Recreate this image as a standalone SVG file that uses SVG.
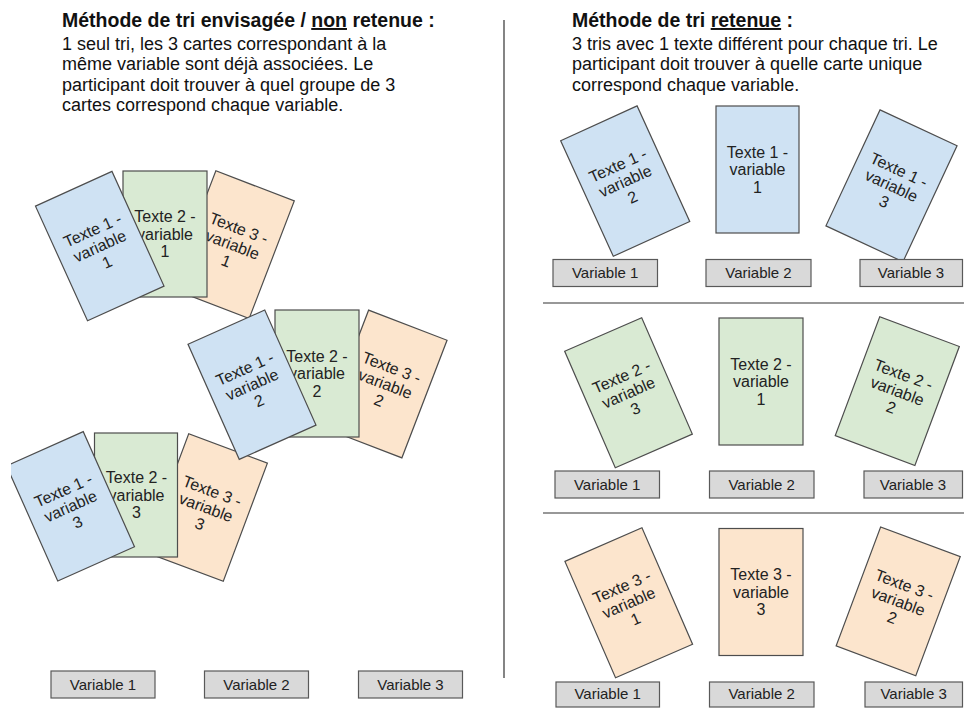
<svg xmlns="http://www.w3.org/2000/svg" width="964" height="708" viewBox="0 0 964 708">
<style>
text{font-family:"Liberation Sans",Arial,Helvetica,sans-serif;fill:#111}
.h1{font-size:19.5px;font-weight:bold}
.bd{font-size:18px}
.card{stroke:#4d4d4d;stroke-width:1.2}
.b{fill:#cfe2f3}.g{fill:#d9ead3}.o{fill:#fce5cd}
.ct{font-size:16px;text-anchor:middle;fill:#222}
.lb{fill:#d9d9d9;stroke:#595959;stroke-width:1.2}
.lt{font-size:15px;text-anchor:middle;fill:#222}
.sep{stroke:#333;stroke-width:1.2}
</style>
<defs>
<clipPath id="clipL"><rect x="11" y="0" width="953" height="708"/></clipPath>
</defs>
<rect width="964" height="708" fill="#fff"/>

<g id="header-left">
<text class="h1" x="62" y="27">Méthode de tri envisagée / <tspan style="text-decoration:underline">non</tspan> retenue :</text>
<text class="bd" x="62" y="49.5">1 seul tri, les 3 cartes correspondant à la</text>
<text class="bd" x="62" y="70">même variable sont déjà associées. Le</text>
<text class="bd" x="62" y="90.5">participant doit trouver à quel groupe de 3</text>
<text class="bd" x="62" y="111">cartes correspond chaque variable.</text>
</g>
<g id="header-right">
<text class="h1" x="572" y="27">Méthode de tri <tspan style="text-decoration:underline">retenue</tspan> :</text>
<text class="bd" x="572" y="49.5">3 tris avec 1 texte différent pour chaque tri. Le</text>
<text class="bd" x="572" y="70">participant doit trouver à quelle carte unique</text>
<text class="bd" x="572" y="90.5">correspond chaque variable.</text>
</g>

<g id="separators">
<line class="sep" x1="504" y1="20" x2="504" y2="678"/>
<line class="sep" x1="543" y1="303" x2="964" y2="303"/>
<line class="sep" x1="543" y1="513" x2="964" y2="513"/>
</g>

<!-- Left cluster, group 1 -->
<g id="L-t3-v1" transform="translate(232.5,244.7) rotate(21)"><rect class="card o" x="-42" y="-63" width="84" height="126"/><text class="ct"><tspan x="0" y="-12">Texte 3 -</tspan><tspan x="0" y="5.5">variable</tspan><tspan x="0" y="23">1</tspan></text></g>
<g id="L-t2-v1" transform="translate(165,234)"><rect class="card g" x="-42" y="-63" width="84" height="126"/><text class="ct"><tspan x="0" y="-12">Texte 2 -</tspan><tspan x="0" y="5.5">variable</tspan><tspan x="0" y="23">1</tspan></text></g>
<g id="L-t1-v1" transform="translate(99.75,246.1) rotate(-24.4)"><rect class="card b" x="-42" y="-63" width="84" height="126"/><text class="ct"><tspan x="0" y="-12">Texte 1 -</tspan><tspan x="0" y="5.5">variable</tspan><tspan x="0" y="23">1</tspan></text></g>

<!-- Left cluster, group 3 -->
<g id="L-t3-v3" transform="translate(206,507.5) rotate(20.5)"><rect class="card o" x="-42" y="-63" width="84" height="126"/><text class="ct"><tspan x="0" y="-12">Texte 3 -</tspan><tspan x="0" y="5.5">variable</tspan><tspan x="0" y="23">3</tspan></text></g>
<g id="L-t2-v3" transform="translate(136.5,495)"><rect class="card g" x="-42" y="-62" width="83" height="124"/><text class="ct"><tspan x="0" y="-12">Texte 2 -</tspan><tspan x="0" y="5.5">variable</tspan><tspan x="0" y="23">3</tspan></text></g>
<g id="L-t1-v3" clip-path="url(#clipL)"><g transform="translate(70.5,506.3) rotate(-24)"><rect class="card b" x="-42" y="-63" width="84" height="126"/><text class="ct"><tspan x="0" y="-12">Texte 1 -</tspan><tspan x="0" y="5.5">variable</tspan><tspan x="0" y="23">3</tspan></text></g></g>

<!-- Left cluster, group 2 -->
<g id="L-t3-v2" transform="translate(385.25,384) rotate(21)"><rect class="card o" x="-42" y="-63" width="84" height="126"/><text class="ct"><tspan x="0" y="-12">Texte 3 -</tspan><tspan x="0" y="5.5">variable</tspan><tspan x="0" y="23">2</tspan></text></g>
<g id="L-t2-v2" transform="translate(317,373.5)"><rect class="card g" x="-42" y="-63.5" width="84" height="127"/><text class="ct"><tspan x="0" y="-12">Texte 2 -</tspan><tspan x="0" y="5.5">variable</tspan><tspan x="0" y="23">2</tspan></text></g>
<g id="L-t1-v2" transform="translate(252,384.7) rotate(-24)"><rect class="card b" x="-42" y="-63" width="84" height="126"/><text class="ct"><tspan x="0" y="-12">Texte 1 -</tspan><tspan x="0" y="5.5">variable</tspan><tspan x="0" y="23">2</tspan></text></g>

<!-- Left labels -->
<g id="L-var1"><rect class="lb" x="51" y="671" width="104" height="27"/><text class="lt" x="103" y="689.5">Variable 1</text></g>
<g id="L-var2"><rect class="lb" x="204.5" y="671" width="104" height="27"/><text class="lt" x="256.5" y="689.5">Variable 2</text></g>
<g id="L-var3"><rect class="lb" x="358.5" y="671" width="104" height="27"/><text class="lt" x="410.5" y="689.5">Variable 3</text></g>

<!-- Right row 1 -->
<g id="R1-c1" transform="translate(625.2,181.1) rotate(-24.5)"><rect class="card b" x="-42" y="-63.5" width="84" height="127"/><text class="ct"><tspan x="0" y="-12">Texte 1 -</tspan><tspan x="0" y="5.5">variable</tspan><tspan x="0" y="23">2</tspan></text></g>
<g id="R1-c2" transform="translate(757.5,169.5)"><rect class="card b" x="-41.5" y="-63.5" width="83" height="127"/><text class="ct"><tspan x="0" y="-12">Texte 1 -</tspan><tspan x="0" y="5.5">variable</tspan><tspan x="0" y="23">1</tspan></text></g>
<g id="R1-c3" transform="translate(891.5,185.8) rotate(25)"><rect class="card b" x="-42.5" y="-64" width="85" height="128"/><text class="ct"><tspan x="0" y="-12">Texte 1 -</tspan><tspan x="0" y="5.5">variable</tspan><tspan x="0" y="23">3</tspan></text></g>
<g id="R1-var1"><rect class="lb" x="553" y="259.5" width="104.5" height="27"/><text class="lt" x="605.2" y="278">Variable 1</text></g>
<g id="R1-var2"><rect class="lb" x="706" y="259.5" width="105" height="27"/><text class="lt" x="758.5" y="278">Variable 2</text></g>
<g id="R1-var3"><rect class="lb" x="860" y="259.5" width="102.5" height="27"/><text class="lt" x="911" y="278">Variable 3</text></g>

<!-- Right row 2 -->
<g id="R2-c1" transform="translate(628.5,392.7) rotate(-23.5)"><rect class="card g" x="-42" y="-63.5" width="84" height="127"/><text class="ct"><tspan x="0" y="-12">Texte 2 -</tspan><tspan x="0" y="5.5">variable</tspan><tspan x="0" y="23">3</tspan></text></g>
<g id="R2-c2" transform="translate(761,381.5)"><rect class="card g" x="-42" y="-63.5" width="84" height="127"/><text class="ct"><tspan x="0" y="-12">Texte 2 -</tspan><tspan x="0" y="5.5">variable</tspan><tspan x="0" y="23">1</tspan></text></g>
<g id="R2-c3" transform="translate(897.3,391.1) rotate(20.5)"><rect class="card g" x="-42.5" y="-63.5" width="85" height="127"/><text class="ct"><tspan x="0" y="-12">Texte 2 -</tspan><tspan x="0" y="5.5">variable</tspan><tspan x="0" y="23">2</tspan></text></g>
<g id="R2-var1"><rect class="lb" x="555" y="471" width="104.5" height="27"/><text class="lt" x="607.2" y="489.5">Variable 1</text></g>
<g id="R2-var2"><rect class="lb" x="709.5" y="471" width="104.5" height="27"/><text class="lt" x="761.7" y="489.5">Variable 2</text></g>
<g id="R2-var3"><rect class="lb" x="864" y="471" width="98.5" height="27"/><text class="lt" x="913" y="489.5">Variable 3</text></g>

<!-- Right row 3 -->
<g id="R3-c1" transform="translate(628.75,602.8) rotate(-23.5)"><rect class="card o" x="-42" y="-63.5" width="84" height="127"/><text class="ct"><tspan x="0" y="-12">Texte 3 -</tspan><tspan x="0" y="5.5">variable</tspan><tspan x="0" y="23">1</tspan></text></g>
<g id="R3-c2" transform="translate(761,592)"><rect class="card o" x="-42" y="-63.5" width="84" height="127"/><text class="ct"><tspan x="0" y="-12">Texte 3 -</tspan><tspan x="0" y="5.5">variable</tspan><tspan x="0" y="23">3</tspan></text></g>
<g id="R3-c3" transform="translate(898.2,601.3) rotate(20.5)"><rect class="card o" x="-42.5" y="-63.5" width="85" height="127"/><text class="ct"><tspan x="0" y="-12">Texte 3 -</tspan><tspan x="0" y="5.5">variable</tspan><tspan x="0" y="23">2</tspan></text></g>
<g id="R3-var1"><rect class="lb" x="556" y="682" width="103.5" height="25"/><text class="lt" x="607.7" y="699">Variable 1</text></g>
<g id="R3-var2"><rect class="lb" x="709.5" y="682" width="104.5" height="25"/><text class="lt" x="761.7" y="699">Variable 2</text></g>
<g id="R3-var3"><rect class="lb" x="865" y="682" width="97.5" height="25"/><text class="lt" x="913.7" y="699">Variable 3</text></g>
</svg>
